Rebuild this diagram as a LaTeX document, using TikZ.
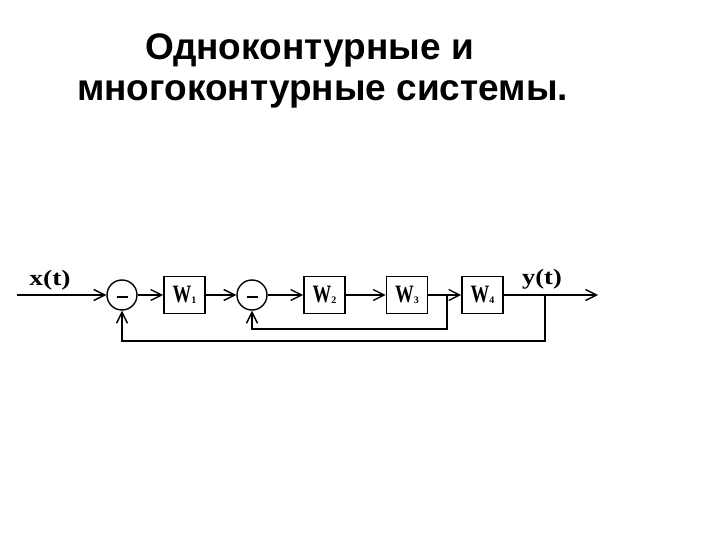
\documentclass[tikz,border=0pt]{standalone}
\usepackage{fontspec}
\setmainfont{Liberation Sans}
\newfontfamily\serifb{Liberation Serif}
\usetikzlibrary{arrows.meta}
\begin{document}
\begin{tikzpicture}[x=1pt,y=-1pt,
  blk/.style={draw,line width=1.6pt,minimum width=41pt,minimum height=37pt,inner sep=0pt},
  sumc/.style={draw,circle,line width=1.4pt,minimum size=30pt,inner sep=0pt},
  sig/.style={line width=1.6pt,-{Straight Barb[length=11pt,width=11pt,line width=1.4pt]}},
  fb/.style={line width=1.3pt,-{Straight Barb[length=11pt,width=11pt,line width=1.4pt]}},
  ttl/.style={font=\fontsize{37}{42}\selectfont\bfseries,anchor=base west,inner sep=0pt},
  lbl/.style={font=\serifb\bfseries\fontsize{22}{22}\selectfont,inner sep=0pt}
]
\useasboundingbox[fill=white] (0,0) rectangle (720,540);
% title
\node[ttl] (t1) at (145,60) {Одноконтурные и};
\node[ttl] (t2) at (77,101) {многоконтурные системы.};
% blocks
\newcommand{\wlab}[1]{{\fontsize{25}{25}\selectfont\scalebox{0.75}[1]{W}}\raisebox{-1pt}{\fontsize{10}{10}\selectfont #1}}
\node[sumc] (c1) at (122,295) {};
\node[sumc] (c2) at (252,295) {};
\node[blk,lbl] (w1) at (184.5,295) {\wlab{1}};
\node[blk,lbl] (w2) at (324.5,295) {\wlab{2}};
\node[blk,lbl] (w3) at (407,295) {\wlab{3}};
\node[blk,lbl] (w4) at (482.5,295) {\wlab{4}};
\draw[line width=1.8pt] ([xshift=-5.5pt,yshift=-2pt]c1.center) -- ([xshift=5.5pt,yshift=-2pt]c1.center);
\draw[line width=1.8pt] ([xshift=-5.5pt,yshift=-2pt]c2.center) -- ([xshift=5.5pt,yshift=-2pt]c2.center);
% labels
\node[lbl] (xl) at (50,280) {\scalebox{1.25}[1]{x(t)}};
\node[lbl] (yl) at (542,279) {\scalebox{1.2}[1]{y(t)}};
% coordinates
\coordinate (in) at (17,295);
\coordinate (out) at (598,295);
\coordinate (p1) at (545,295);
\coordinate (p2) at (447,295);
% signal path
\draw[line width=1.3pt,-{Straight Barb[length=11pt,width=11pt,line width=1.4pt]}] (in) -- (c1.west);
\draw[sig] (c1.east) -- (w1.west);
\draw[sig] (w1.east) -- (c2.west);
\draw[sig] (c2.east) -- (w2.west);
\draw[line width=1.2pt,-{Straight Barb[length=11pt,width=11pt,line width=1.4pt]}] (w2.east) -- (w3.west);
\draw[sig] (w3.east) -- (w4.west);
\draw[sig] (w4.east) -- (out);
% feedback
\draw[fb] (p1) -- (545,341) -| (c1.south);
\draw[fb] (p2) -- (447,329) -| (c2.south);
\end{tikzpicture}
\end{document}
